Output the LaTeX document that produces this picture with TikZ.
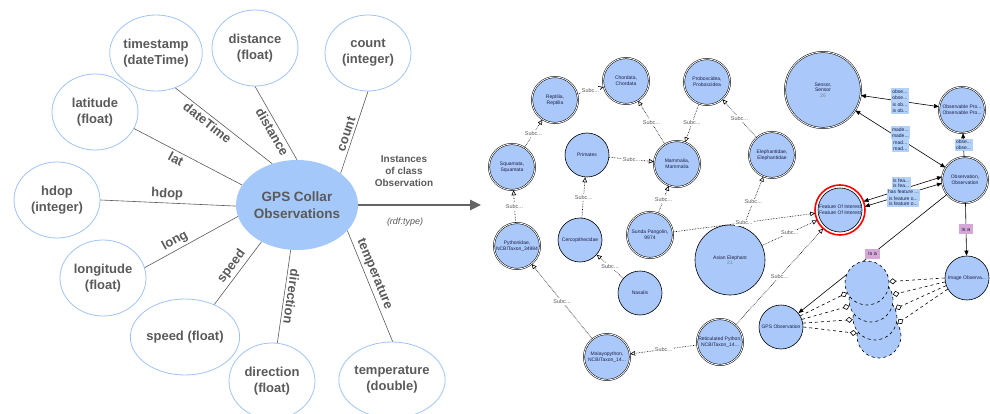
\documentclass[tikz,border=0pt]{standalone}
\usepackage{fontspec}
\setmainfont{Liberation Sans}
\usepackage{tikz}
\usetikzlibrary{shapes.geometric}
\usetikzlibrary{arrows.meta}
\definecolor{propLine}{RGB}{160,196,245}
\definecolor{obsFill}{RGB}{164,200,250}
\definecolor{propText}{RGB}{90,90,90}
\definecolor{classFill}{RGB}{170,201,250}
\definecolor{relFill}{RGB}{178,210,250}
\definecolor{isaFill}{RGB}{214,168,214}
\definecolor{classText}{RGB}{30,30,70}
\definecolor{arrowGray}{RGB}{100,100,100}

\begin{document}
\begin{tikzpicture}[x=1pt,y=-1pt,>={Triangle[length=5pt,width=4pt]}]

          \tikzstyle{propNode} = [ellipse, draw=propLine, line width=0.8pt, minimum width=86pt, minimum height=76pt, inner sep=0pt, align=center, text=propText, font=\bfseries\fontsize{13}{16}\selectfont];
          \tikzstyle{obsNode} = [ellipse, fill=obsFill, minimum width=104pt, minimum height=90pt, inner sep=0pt, align=center, text=propText, font=\bfseries\fontsize{13.5}{16.5}\selectfont];
          \tikzstyle{propEdge} = [draw=propText, line width=0.6pt];
          \tikzstyle{propLabel} = [sloped, text=propText, inner sep=2.5pt, font=\bfseries\fontsize{13}{16}\selectfont];
          \tikzstyle{typeArrow} = [draw=arrowGray, line width=2.5pt, -{Triangle[length=11pt,width=10pt]}];
          \tikzstyle{typeText} = [align=center, text=propText, font=\bfseries\fontsize{10}{12}\selectfont];
          \tikzstyle{typeNote} = [text=propText, font=\itshape\fontsize{9}{11}\selectfont];

          \tikzstyle{classNode} = [circle, fill=classFill, draw=black, line width=0.5pt, double=white, double distance=0.8pt, minimum size=46pt, inner sep=0pt, align=center, text=classText, font=\fontsize{5}{5.6}\selectfont];
          \tikzstyle{plainNode} = [circle, fill=classFill, draw=black, line width=0.6pt, minimum size=44pt, inner sep=0pt, align=center, text=classText, font=\fontsize{5}{5.6}\selectfont];
          \tikzstyle{ghostNode} = [plainNode, dashed];
          \tikzstyle{foiRing} = [draw=red, line width=1.6pt];
          \tikzstyle{subEdge} = [densely dotted, line width=0.6pt, -{Triangle[fill=white,length=5pt,width=4.5pt]}];
          \tikzstyle{subLabel} = [fill=white, text=propText, inner sep=1pt, font=\fontsize{5.5}{6.5}\selectfont];
          \tikzstyle{relEdge} = [line width=0.6pt];
          \tikzstyle{relLabel} = [fill=relFill, text=classText, inner sep=1.5pt, align=center, font=\fontsize{5}{5.6}\selectfont];
          \tikzstyle{isaLabel} = [fill=isaFill, text=classText, inner sep=3pt, font=\fontsize{5.5}{6.5}\selectfont];
          \tikzstyle{ghostEdge} = [dashed, line width=0.6pt, -{Diamond[fill=white,length=7pt,width=6pt]}];

          \useasboundingbox (0,0) rectangle (990,414);

          % GPS collar data properties
          \node[obsNode] (obs) at (297,205) {GPS Collar\\Observations};
          \node[propNode] (stamp) at (156,53) {timestamp\\(dateTime)};
          \node[propNode] (dist) at (255,48) {distance\\(float)};
          \node[propNode] (count) at (368,53) {count\\(integer)};
          \node[propNode] (lat) at (95,112) {latitude\\(float)};
          \node[propNode] (hdop) at (57,200) {hdop\\(integer)};
          \node[propNode] (long) at (103,278) {longitude\\(float)};
          \node[propNode] (speed) at (185,337) {speed (float)};
          \node[propNode] (dir) at (272,381) {direction\\(float)};
          \node[propNode] (temp) at (392,380) {temperature\\(double)};

          \draw[propEdge] (obs.121) -- node[propLabel, below, pos=0.62] {dateTime} (stamp.-61);
          \draw[propEdge] (obs.90) -- node[propLabel, below, pos=0.43] {distance} (dist.-90);
          \draw[propEdge] (obs.36) -- node[propLabel, above, pos=0.45] {count} (count.-90);
          \draw[propEdge] (obs.160) -- node[propLabel, below, pos=0.58] {lat} (lat.-23);
          \draw[propEdge] (obs.181) -- node[propLabel, above, pos=0.51] {hdop} (hdop.0);
          \draw[propEdge] (obs.191) -- node[propLabel, above, pos=0.63] {long} (long.14);
          \draw[propEdge] (obs.226) -- node[propLabel, above, pos=0.48] {speed} (speed.48);
          \draw[propEdge] (obs.262) -- node[propLabel, above, pos=0.49, allow upside down] {direction} (dir.82);
          \draw[propEdge] (obs.333) -- node[propLabel, above, pos=0.42] {temperature} (temp.89);

          % rdf:type arrow
          \coordinate (typeEnd) at (481,205);
          \draw[typeArrow] (obs.east) -- (typeEnd);
          \node[typeText] (instances) at (404,171) {Instances\\of class\\Observation};
          \node[typeNote] (rdfType) at (405,222) {(rdf:type)};

          % ontology graph
          \node[classNode] (reptilia) at (555,100) {Reptilia,\\Reptilia};
          \node[classNode] (chordata) at (626,81) {Chordata,\\Chordata};
          \node[classNode] (squamata) at (512,167) {Squamata,\\Squamata};
          \node[plainNode] (primates) at (587,155) {Primates};
          \node[classNode] (proboscidea) at (707,82) {Proboscidea,\\Proboscidea};
          \node[classNode] (mammalia) at (677,164) {Mammalia,\\Mammalia};
          \node[classNode] (elephantidae) at (772,155) {Elephantidae,\\Elephantidae};
          \node[classNode] (pythonidae) at (517,246) {Pythonidae,\\NCBITaxon\_34984};
          \node[plainNode] (cercopith) at (580,240) {Cercopithecidae};
          \node[plainNode] (nasalis) at (640,293) {Nasalis};
          \node[classNode] (malayo) at (607,357) {Malayopython,\\NCBITaxon\_14...};
          \node[classNode] (sunda) at (650,235) {Sunda Pangolin,\\9974};
          \node[plainNode, minimum size=70pt] (elephant) at (730,260) {Asian Elephant\\{\color{gray}21}};
          \node[classNode] (reticulated) at (720,342) {Reticulated Python,\\NCBITaxon\_14...};
          \node[plainNode] (gpsObs) at (781,327) {GPS Observation};
          \node[classNode, minimum size=76pt] (sensor) at (823,90) {Sensor,\\Sensor\\{\color{gray}26}};
          \node[classNode] (obsProp) at (962,110) {Observable Pro...\\Observable Pro...};
          \node[classNode] (observation) at (965,180) {Observation,\\Observation};
          \node[plainNode, outer sep=3pt] (foi) at (840,210) {Feature Of Interest\\Feature Of Interest};
          \draw[foiRing] (foi) circle (25pt);
          \node[plainNode] (imageObs) at (967,278) {Image Observa...};

          \draw[subEdge] (squamata) -- node[subLabel] {Subc...} (reptilia);
          \draw[subEdge] (reptilia) -- node[subLabel] {Subc...} (chordata);
          \draw[subEdge] (pythonidae) -- node[subLabel] {Subc...} (squamata);
          \draw[subEdge] (cercopith) -- node[subLabel] {Subc...} (primates);
          \draw[subEdge] (primates) -- node[subLabel] {Subc...} (mammalia);
          \draw[subEdge] (mammalia) -- node[subLabel] {Subc...} (chordata);
          \draw[subEdge] (proboscidea) -- node[subLabel] {Subc...} (mammalia);
          \draw[subEdge] (elephantidae) -- node[subLabel] {Subc...} (proboscidea);
          \draw[subEdge] (nasalis) -- node[subLabel] {Subc...} (cercopith);
          \draw[subEdge] (malayo) -- node[subLabel] {Subc...} (pythonidae);
          \draw[subEdge] (reticulated) -- node[subLabel] {Subc...} (malayo);
          \draw[subEdge] (sunda) -- node[subLabel] {Subc...} (mammalia);
          \draw[subEdge] (elephant) -- node[subLabel] {Subc...} (elephantidae);
          \draw[subEdge] (sunda) -- node[subLabel] {Subc...} (foi);
          \draw[subEdge] (elephant) -- node[subLabel] {Subc...} (foi);
          \draw[subEdge] (reticulated) -- node[subLabel] {Subc...} (foi);

          \draw[relEdge, <->] (sensor) -- node[relLabel, above=0pt] {obse...\\obse...} node[relLabel, below=0pt] {is ob...\\is ob...} (obsProp);
          \draw[relEdge, <->] (sensor) -- node[relLabel, above=0pt] {made...\\made...} node[relLabel, below=0pt] {mad...\\mad...} (observation);
          \draw[relEdge, ->] (observation) -- node[relLabel] {obse...\\obse...} (obsProp);
          \draw[relEdge, <->] (observation.172) -- node[relLabel, above=0pt, pos=0.52] {is fea...\\is fea...} (foi.20);
          \draw[relEdge, <->] (observation.188) -- node[relLabel, pos=0.5] {has feature ...\\has Featu...} node[relLabel, below=0pt, pos=0.5] {is feature o...\\is feature o...} (foi.8);
          \draw[relEdge, ->] (observation) -- node[isaLabel] {is a} (imageObs);
          \draw[relEdge, ->] (observation) -- node[isaLabel] {is a} (gpsObs);

          % stacked observation instances
          \node[ghostNode] (ghostD) at (879,336) {};
          \node[ghostNode] (ghostC) at (875,318) {};
          \node[ghostNode] (ghostB) at (871,300) {};
          \node[ghostNode] (ghostA) at (867,283) {};

          \draw[ghostEdge] (gpsObs.30) -- (ghostA);
          \draw[ghostEdge] (gpsObs.20) -- (ghostB);
          \draw[ghostEdge] (gpsObs.10) -- (ghostC);
          \draw[ghostEdge] (gpsObs.0) -- (ghostD);
          \draw[ghostEdge] (imageObs.180) -- (ghostA);
          \draw[ghostEdge] (imageObs.190) -- (ghostB);
          \draw[ghostEdge] (imageObs.200) -- (ghostC);
          \draw[ghostEdge] (imageObs.210) -- (ghostD);
        \end{tikzpicture}
\end{document}
